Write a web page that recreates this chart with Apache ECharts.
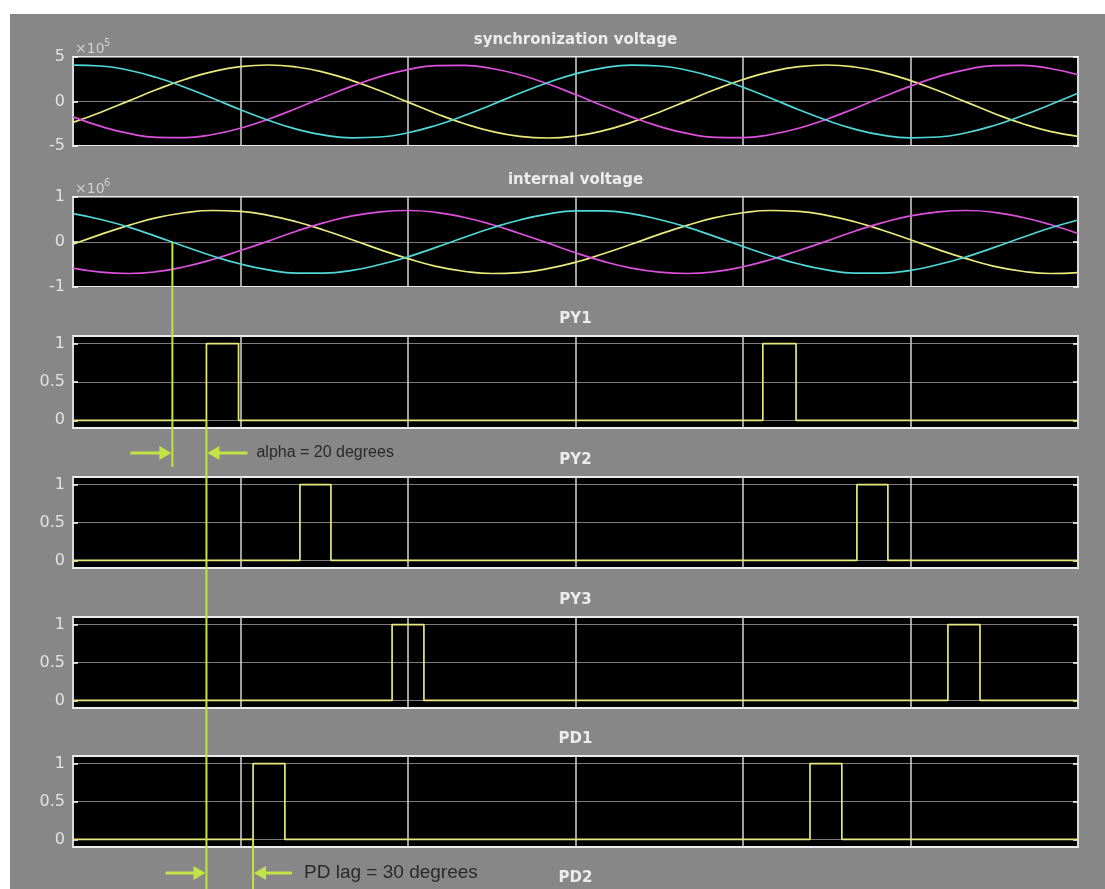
<!DOCTYPE html>
<html><head><meta charset="utf-8">
<script src="https://cdn.jsdelivr.net/npm/echarts@6/dist/echarts.min.js"></script>
<style>
html,body{margin:0;padding:0;background:#fff;width:1105px;height:889px;overflow:hidden}
#c{position:absolute;left:10px;top:14px;width:1095px;height:875px}
</style>
</head><body><div id="c"></div>
<script>
// ---- data (time in ms) ----
const timeMs = [0,1,2,3,4,5,6,7,8,9,10,11,12,13,14,15,16,17,18,19,20,21,22,23,24,25,26,27,28,29,30,31,32,33,34,35,36];
const xTicksMs = [0, 6, 12, 18, 24, 30, 36];
// synchronization voltage, x10^5 V
const syncYellow = [-2.35,-1.20,0.07,1.34,2.47,3.36,3.92,4.10,3.88,3.28,2.35,1.20,-0.07,-1.34,-2.47,-3.36,-3.92,-4.10,-3.88,-3.28,-2.35,-1.20,0.07,1.34,2.47,3.36,3.92,4.10,3.88,3.28,2.35,1.20,-0.07,-1.34,-2.47,-3.36,-3.92];
const syncMagenta = [-1.73,-2.80,-3.59,-4.03,-4.07,-3.71,-3.00,-1.99,-0.78,0.50,1.73,2.80,3.59,4.03,4.07,3.71,3.00,1.99,0.78,-0.50,-1.73,-2.80,-3.59,-4.03,-4.07,-3.71,-3.00,-1.99,-0.78,0.50,1.73,2.80,3.59,4.03,4.07,3.71,3.00];
const syncCyan = [4.08,3.99,3.51,2.69,1.60,0.36,-0.92,-2.11,-3.10,-3.78,-4.08,-3.99,-3.51,-2.69,-1.60,-0.36,0.92,2.11,3.10,3.78,4.08,3.99,3.51,2.69,1.60,0.36,-0.92,-2.11,-3.10,-3.78,-4.08,-3.99,-3.51,-2.69,-1.60,-0.36,0.92];
// internal voltage, x10^6 V
const intYellow = [-0.05,0.17,0.37,0.54,0.65,0.70,0.68,0.59,0.45,0.26,0.05,-0.17,-0.37,-0.54,-0.65,-0.70,-0.68,-0.59,-0.45,-0.26,-0.05,0.17,0.37,0.54,0.65,0.70,0.68,0.59,0.45,0.26,0.05,-0.17,-0.37,-0.54,-0.65,-0.70,-0.68];
const intMagenta = [-0.58,-0.67,-0.70,-0.66,-0.55,-0.39,-0.19,0.02,0.24,0.43,0.58,0.67,0.70,0.66,0.55,0.39,0.19,-0.02,-0.24,-0.43,-0.58,-0.67,-0.70,-0.66,-0.55,-0.39,-0.19,0.02,0.24,0.43,0.58,0.67,0.70,0.66,0.55,0.39,0.19];
const intCyan = [0.63,0.50,0.33,0.12,-0.10,-0.31,-0.49,-0.62,-0.69,-0.69,-0.63,-0.50,-0.33,-0.12,0.10,0.31,0.49,0.62,0.69,0.69,0.63,0.50,0.33,0.12,-0.10,-0.31,-0.49,-0.62,-0.69,-0.69,-0.63,-0.50,-0.33,-0.12,0.10,0.31,0.49];
// gate pulses: rising / falling edge times (ms)
const py1Rise = [4.78, 24.71], py1Fall = [5.93, 25.90];
const py2Rise = [8.13, 28.08], py2Fall = [9.24, 29.19];
const py3Rise = [11.43, 31.34], py3Fall = [12.57, 32.49];
const pd1Rise = [6.45, 26.40], pd1Fall = [7.59, 27.54];
const pulseTicks = [0, 0.5, 1];
const plotTitles = ['synchronization voltage', 'internal voltage', 'PY1', 'PY2', 'PY3', 'PD1', 'PD2'];
const alphaRefMs = 3.56;   // cyan internal-voltage zero crossing
const alphaText = 'alpha = 20 degrees';
const pdLagText = 'PD lag = 30 degrees';

// ---- layout ----
const W = 1095, H = 875;
const gLeft = 63, gRight = 27;
const gTops = [43, 183, 322, 463, 603, 742];
const gHeights = [89, 90, 92, 91, 91, 91];
const YEL = '#e8e87c', CYA = '#4fd8d8', MAG = '#dc50dc', ANN = '#c2e345';

const chart = echarts.init(document.getElementById('c'));

const grids = gTops.map((t, i) => ({
  left: gLeft, right: gRight, top: t, height: gHeights[i],
  show: true, backgroundColor: '#000', borderColor: '#ececec', borderWidth: 2
}));
const xAxes = gTops.map((t, i) => ({
  type: 'value', gridIndex: i, min: xTicksMs[0], max: xTicksMs[xTicksMs.length - 1], interval: xTicksMs[1] - xTicksMs[0],
  axisLabel: { show: false }, axisLine: { show: false }, axisTick: { show: false },
  splitLine: { show: true, lineStyle: { color: '#d6d6d6', width: 1.5 } }
}));
const labelStyle = { color: '#e2e2e2', fontSize: 16, fontFamily: '"DejaVu Sans", sans-serif', margin: 8 };
const yAxes = [];
const yCfg = [
  { min: -5, max: 5, interval: 5 },
  { min: -1, max: 1, interval: 1 },
  null, null, null, null
];
gTops.forEach((t, i) => {
  ['left', 'right'].forEach(pos => {
    const ax = {
      type: 'value', gridIndex: i, position: pos,
      axisLine: { show: false },
      axisTick: { show: true, inside: true, length: 5, lineStyle: { color: '#ffffff', width: 1.5 } },
      axisLabel: Object.assign({ show: pos === 'left' }, labelStyle),
      splitLine: { show: pos === 'left', lineStyle: { color: '#7c7c7c', width: 1 } }
    };
    if (yCfg[i]) {
      Object.assign(ax, yCfg[i]);
    } else {
      ax.min = -0.1; ax.max = 1.1;
      ax.axisTick.customValues = pulseTicks;
      ax.axisLabel.customValues = pulseTicks;
    }
    yAxes.push(ax);
  });
});

const pts = arr => timeMs.map((t, k) => [t, arr[k]]);
const stepData = (rise, fall) => {
  const d = [[timeMs[0], 0]];
  rise.forEach((r, k) => { d.push([r, 0], [r, 1], [fall[k], 1], [fall[k], 0]); });
  d.push([timeMs[timeMs.length - 1], 0]);
  return d;
};
const sine = (gi, arr, color) => ({
  type: 'line', xAxisIndex: gi, yAxisIndex: 2 * gi, data: pts(arr), showSymbol: false, smooth: true,
  lineStyle: { color, width: 1.7 }, z: 3, animation: false
});
const pulse = (gi, rise, fall) => ({
  type: 'line', xAxisIndex: gi, yAxisIndex: 2 * gi, data: stepData(rise, fall), showSymbol: false,
  lineStyle: { color: YEL, width: 1.7 }, z: 3, animation: false
});

chart.setOption({
  backgroundColor: '#878787',
  animation: false,
  grid: grids, xAxis: xAxes, yAxis: yAxes,
  series: [
    sine(0, syncYellow, YEL), sine(0, syncMagenta, MAG), sine(0, syncCyan, CYA),
    sine(1, intYellow, YEL), sine(1, intMagenta, MAG), sine(1, intCyan, CYA),
    pulse(2, py1Rise, py1Fall), pulse(3, py2Rise, py2Fall), pulse(4, py3Rise, py3Fall), pulse(5, pd1Rise, pd1Fall)
  ]
});

// ---- annotations / titles ----
const px = (gi, x, y) => chart.convertToPixel({ xAxisIndex: gi, yAxisIndex: 2 * gi }, [x, y]);
const cx = gLeft + (W - gLeft - gRight) / 2;
const g = [];
plotTitles.forEach((s, i) => {
  const top = i < gTops.length ? gTops[i] : gTops[5] + 139;
  g.push({ type: 'text', x: cx, y: top - 17, z: 50, style: {
    text: s, fill: '#ececec', font: 'bold 15px "DejaVu Sans", sans-serif',
    align: 'center', verticalAlign: 'middle', textAlign: 'center', textVerticalAlign: 'middle' } });
});
[['5', 0], ['6', 1]].forEach(([e, i]) => {
  const top = gTops[i];
  g.push({ type: 'text', x: gLeft + 2, y: top - 8, z: 50, style: { text: '×10', fill: '#d0d0d0',
    font: '14px "DejaVu Sans", sans-serif', align: 'left', verticalAlign: 'middle', textAlign: 'left', textVerticalAlign: 'middle' } });
  g.push({ type: 'text', x: gLeft + 31, y: top - 14, z: 50, style: { text: e, fill: '#d0d0d0',
    font: '10px "DejaVu Sans", sans-serif', align: 'left', verticalAlign: 'middle', textAlign: 'left', textVerticalAlign: 'middle' } });
});
const l1 = px(1, alphaRefMs, 0);
const l2 = px(2, py1Rise[0], 0);
const l3 = px(5, pd1Rise[0], 0);
const vline = (x, y1, y2) => ({ type: 'line', z: 60, shape: { x1: x, y1, x2: x, y2 }, style: { stroke: ANN, lineWidth: 2 } });
g.push(vline(l1[0], l1[1], 453));
g.push(vline(l2[0], l2[1], H));
g.push(vline(l3[0], l3[1], H));
const arrow = (xTail, xTip, y) => {
  const dir = xTip > xTail ? 1 : -1;
  g.push({ type: 'line', z: 60, shape: { x1: xTail, y1: y, x2: xTip - dir * 10, y2: y }, style: { stroke: ANN, lineWidth: 3 } });
  g.push({ type: 'polygon', z: 60, shape: { points: [[xTip, y], [xTip - dir * 12, y - 7], [xTip - dir * 12, y + 7]] }, style: { fill: ANN } });
};
const row1 = 439, row2 = 859;
arrow(l1[0] - 42, l1[0] - 1, row1);
arrow(l2[0] + 41, l2[0] + 1, row1);
arrow(l2[0] - 41, l2[0] - 1, row2);
arrow(l3[0] + 39, l3[0] + 1, row2);
g.push({ type: 'text', x: l2[0] + 50, y: row1, z: 60, style: { text: alphaText, fill: '#2a2a2a',
  font: '16px "Liberation Sans", Arial, sans-serif', align: 'left', verticalAlign: 'middle', textAlign: 'left', textVerticalAlign: 'middle' } });
g.push({ type: 'text', x: l3[0] + 51, y: row2, z: 60, style: { text: pdLagText, fill: '#2a2a2a',
  font: '19px "Liberation Sans", Arial, sans-serif', align: 'left', verticalAlign: 'middle', textAlign: 'left', textVerticalAlign: 'middle' } });
chart.setOption({ graphic: g });
</script>
</body></html>
